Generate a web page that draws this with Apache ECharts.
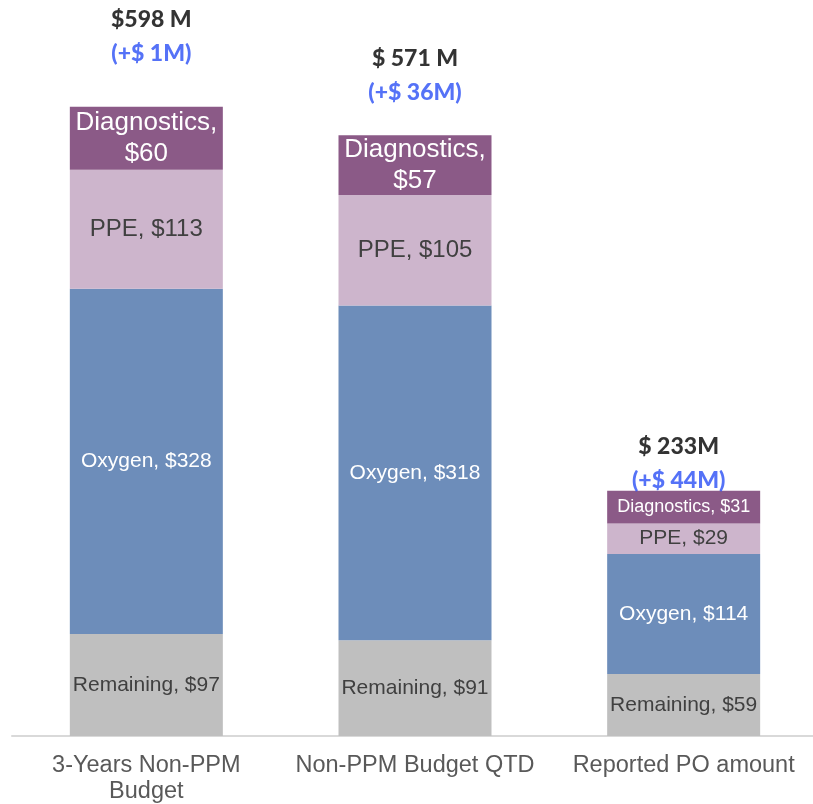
<!DOCTYPE html>
<html>
<head>
<meta charset="utf-8">
<script src="https://cdn.jsdelivr.net/npm/echarts@6/dist/echarts.min.js"></script>
<style>
  html, body { margin: 0; padding: 0; background: #fff; }
  #chart { width: 813px; height: 804px; }
</style>
</head>
<body>
<div id="chart"></div>
<script>
// chart data
var categories = ['3-Years Non-PPM\nBudget', 'Non-PPM Budget QTD', 'Reported PO amount'];
var remaining = [97, 91, 59];
var oxygen = [328, 318, 114];
var ppe = [113, 105, 29];
var diagnostics = [60, 57, 31];
var totals = [598, 571, 233];
var totalText = ['$598 M', '$ 571 M', '$ 233M'];
var changeText = ['(+$ 1M)', '(+$ 36M)', '(+$ 44M)'];

var labelFont = 'Liberation Sans, Arial, sans-serif';

function segLabel(name, color, size) {
    return {
        show: true,
        position: 'inside',
        fontFamily: labelFont,
        color: color,
        fontSize: size,
        formatter: function (p) {
            return name + ', $' + p.value;
        }
    };
}

// per bar label tweaks (3rd bar is shorter, smaller text)
function withLabels(values, labelOpts) {
    return values.map(function (v, i) {
        var item = { value: v };
        if (labelOpts[i]) item.label = labelOpts[i];
        return item;
    });
}

var totalOffsets = [[5, -36], [0, -26], [-5, 7]];

var chart = echarts.init(document.getElementById('chart'));

chart.setOption({
    animation: false,
    grid: { left: 12, width: 806, top: 52, bottom: 68, outerBoundsMode: 'none' },
    xAxis: {
        type: 'category',
        data: categories,
        axisTick: { show: false },
        axisLine: { lineStyle: { color: '#d9d9d9', width: 2 } },
        axisLabel: {
            interval: 0,
            hideOverlap: false,
            fontFamily: labelFont,
            fontSize: 23.5,
            color: '#595959',
            lineHeight: 26,
            margin: 17
        }
    },
    yAxis: {
        type: 'value',
        min: 0,
        max: 650,
        show: false,
        splitLine: { show: false }
    },
    series: [
        {
            name: 'Remaining',
            type: 'bar',
            stack: 'total',
            barWidth: 153,
            itemStyle: { color: '#bfbfbf' },
            label: segLabel('Remaining', '#404040', 21),
            data: remaining
        },
        {
            name: 'Oxygen',
            type: 'bar',
            stack: 'total',
            itemStyle: { color: '#6d8dba' },
            label: segLabel('Oxygen', '#ffffff', 21),
            data: oxygen
        },
        {
            name: 'PPE',
            type: 'bar',
            stack: 'total',
            itemStyle: { color: '#cdb5cc' },
            label: segLabel('PPE', '#404040', 24),
            data: withLabels(ppe, [null, null, { fontSize: 21 }])
        },
        {
            name: 'Diagnostics',
            type: 'bar',
            stack: 'total',
            itemStyle: { color: '#8b5a87' },
            label: {
                show: true,
                position: 'inside',
                fontFamily: labelFont,
                color: '#ffffff',
                fontSize: 26,
                lineHeight: 31,
                formatter: function (p) {
                    return p.dataIndex < 2 ? 'Diagnostics,\n$' + p.value : 'Diagnostics, $' + p.value;
                }
            },
            data: withLabels(diagnostics, [null, null, { fontSize: 18 }])
        },
        {
            name: 'Total',
            type: 'scatter',
            symbolSize: 0,
            silent: true,
            label: {
                show: true,
                position: 'top',
                distance: 0,
                formatter: function (p) {
                    return '{a|' + totalText[p.dataIndex] + '}\n{b|' + changeText[p.dataIndex] + '}';
                },
                rich: {
                    a: { fontFamily: 'Lato', fontWeight: 900, fontSize: 23, color: '#000000', lineHeight: 34 },
                    b: { fontFamily: 'Lato', fontWeight: 900, fontSize: 23, color: '#2b4ff5', lineHeight: 34 }
                }
            },
            data: totals.map(function (v, i) {
                return { value: v, label: { offset: totalOffsets[i] } };
            })
        }
    ]
});
</script>
</body>
</html>
